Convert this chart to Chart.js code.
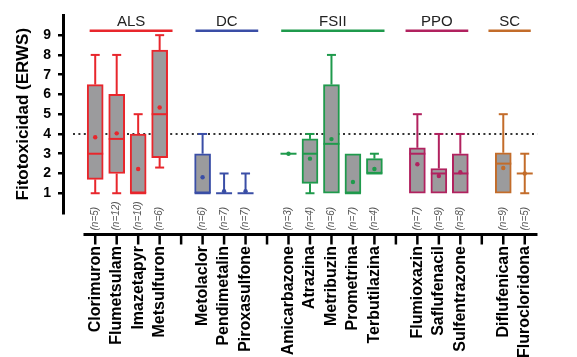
<!DOCTYPE html>
<html><head><meta charset="utf-8">
<script src="https://cdn.jsdelivr.net/npm/chart.js@4"></script>
<style>html,body{margin:0;padding:0;background:#fff}#wrap{width:577px;height:357px}</style>
</head><body><div id="wrap"><canvas id="c" width="577" height="357"></canvas></div>
<script>
// ---- DATA ----
const categories = ['', 'Clorimuron','Flumetsulam','Imazetapyr','Metsulfuron','',
  'Metolaclor','Pendimetalin','Piroxasulfone','',
  'Amicarbazone','Atrazina','Metribuzin','Prometrina','Terbutilazina','',
  'Flumioxazin','Saflufenacil','Sulfentrazone','',
  'Diflufenican','Flurocloridona'];
const groupOf = [null,'ALS','ALS','ALS','ALS',null,'DC','DC','DC',null,
  'FSII','FSII','FSII','FSII','FSII',null,'PPO','PPO','PPO',null,'SC','SC'];
const nValues = [null,5,12,10,6,null,6,7,7,null,3,4,6,7,4,null,7,9,8,null,9,5];
const mins    = [null,1,1,1,2.3,null,1,1,1,null,3,1,1,1,2,null,1,1,1,null,1,1];
const q1s     = [null,1.7,2,1,2.8,null,1,1,1,null,3,1.5,1,1,2,null,1,1,1,null,1,2];
const medians = [null,3,3.75,1,5,null,1,1,1,null,3,3,3.5,1,2,null,3,2,2,null,2.5,2];
const q3s     = [null,6.5,6,4,8.25,null,3,1,1,null,3,3.75,6.5,3,2.75,null,3.3,2.25,3,null,3.05,2];
const maxs    = [null,8,8,5,9,null,4,2,2,null,3,4,8,3,3,null,5,4,4,null,5,3];
const means   = [null,3.83,4.03,2.23,5.34,null,1.81,1.1,1.1,null,3,2.75,3.74,1.57,2.23,null,2.47,1.87,2.06,null,2.28,2];
const groupNames = ['ALS','DC','FSII','PPO','SC'];
const groupSpans = [[0.74,4.6],[5.67,8.59],[9.66,14.47],[15.45,18.37],[19.31,21.28]];
const yTickValues = [1,2,3,4,5,6,7,8,9];
const thresholdValue = 4;
const yTitle = 'Fitotoxicidad (ERWS)';

// ---- STYLE ----
const FONT = '"Liberation Sans", Arial, Helvetica, sans-serif';
const groupColors = {ALS:'#e8262c', DC:'#3a4ea6', FSII:'#1f9a4c', PPO:'#b1225f', SC:'#c36c2a'};
const colorAt = i => groupOf[i] ? groupColors[groupOf[i]] : 'rgba(0,0,0,0)';
const catColors = categories.map((c,i)=>colorAt(i));
const BOX_W = 16, CAP_W = 9;

const boxData = categories.map((c,i)=> (q3s[i]!=null && q3s[i]>q1s[i]) ? [q1s[i], q3s[i]] : null);

const extras = {
  id:'extras',
  beforeDatasetsDraw(chart){
    const {ctx, chartArea} = chart; const y = chart.scales.y.getPixelForValue(thresholdValue);
    ctx.save(); ctx.strokeStyle='#333'; ctx.lineWidth=2; ctx.setLineDash([2,3.4]);
    ctx.beginPath(); ctx.moveTo(chartArea.left+10, y); ctx.lineTo(chartArea.right+2, y); ctx.stroke();
    ctx.restore();
  },
  afterDatasetDraw(chart, args){
    if(args.index!==0) return;
    const {ctx} = chart; const xs = chart.scales.x, ys = chart.scales.y;
    ctx.save(); ctx.lineWidth=2; ctx.lineCap='butt';
    categories.forEach((c,i)=>{
      if(medians[i]==null) return;
      const x = xs.getPixelForValue(i); ctx.strokeStyle = catColors[i];
      const seg=(x1,y1,x2,y2)=>{ctx.beginPath();ctx.moveTo(x1,y1);ctx.lineTo(x2,y2);ctx.stroke();};
      const pq3=ys.getPixelForValue(q3s[i]), pmax=ys.getPixelForValue(maxs[i]);
      const pq1=ys.getPixelForValue(q1s[i]), pmin=ys.getPixelForValue(mins[i]);
      if(maxs[i]>q3s[i]){ seg(x,pq3,x,pmax); seg(x-CAP_W/2,pmax,x+CAP_W/2,pmax); }
      if(mins[i]<q1s[i]){ seg(x,pq1,x,pmin); seg(x-CAP_W/2,pmin,x+CAP_W/2,pmin); }
      const pm=ys.getPixelForValue(medians[i]);
      seg(x-BOX_W/2,pm,x+BOX_W/2,pm);
    });
    ctx.restore();
  },
  afterDraw(chart){
    const {ctx, chartArea} = chart; const xs = chart.scales.x, ys = chart.scales.y;
    const axisY = ys.bottom + 21.5;
    const half = (xs.getPixelForValue(1)-xs.getPixelForValue(0))/2;
    ctx.save();
    ctx.strokeStyle='#000'; ctx.lineWidth=3;
    ctx.beginPath(); ctx.moveTo(xs.getPixelForValue(1)-half-1, axisY); ctx.lineTo(chartArea.right+2, axisY); ctx.stroke();
    ctx.lineWidth=2.5;
    for(let i=1;i<categories.length;i++){
      const x=xs.getPixelForValue(i);
      ctx.beginPath(); ctx.moveTo(x, axisY); ctx.lineTo(x, axisY+10); ctx.stroke();
    }
    // n labels
    ctx.fillStyle='#555'; ctx.font='italic 10px '+FONT; ctx.textAlign='left'; ctx.textBaseline='middle';
    categories.forEach((c,i)=>{
      if(nValues[i]==null) return;
      const x=xs.getPixelForValue(i);
      ctx.save(); ctx.translate(x, axisY-4); ctx.rotate(-Math.PI/2);
      ctx.fillText('(n='+nValues[i]+')', 0, 0); ctx.restore();
    });
    // group labels
    groupNames.forEach((g,k)=>{
      const x1=xs.getPixelForValue(groupSpans[k][0]), x2=xs.getPixelForValue(groupSpans[k][1]);
      ctx.strokeStyle=groupColors[g]; ctx.lineWidth=2.5;
      ctx.beginPath(); ctx.moveTo(x1,30.7); ctx.lineTo(x2,30.7); ctx.stroke();
      ctx.fillStyle='#222'; ctx.font='15px '+FONT; ctx.textAlign='center'; ctx.textBaseline='alphabetic';
      ctx.fillText(g,(x1+x2)/2,26);
    });
    ctx.restore();
  }
};

new Chart(document.getElementById('c'), {
  type:'bar',
  data:{ labels: categories, datasets:[
    {type:'bar', data: boxData, backgroundColor:'#9b9b9d', borderColor: catColors, borderWidth:2,
     borderSkipped:false, barThickness:BOX_W, grouped:false, order:2},
    {type:'line', data: means, showLine:false, pointRadius:2.2, pointHoverRadius:2.2,
     pointBackgroundColor: catColors, pointBorderWidth:0, order:1}
  ]},
  options:{
    responsive:false, animation:false, devicePixelRatio:1,
    layout:{padding:{top:13.4, right:1, left:0, bottom:0}},
    plugins:{legend:{display:false}, tooltip:{enabled:false}},
    scales:{
      x:{type:'category', offset:true, grid:{display:false, drawTicks:false}, border:{display:false},
         ticks:{autoSkip:false, minRotation:90, maxRotation:90, padding:33, color:'#000',
                font:{family:FONT, weight:'bold', size:16}},
         afterFit:s=>{s.height=144;}},
      y:{min:0, max:10, afterBuildTicks:s=>{s.ticks=yTickValues.map(v=>({value:v}));},
         grid:{drawOnChartArea:false, tickLength:5, lineWidth:2.5, color:'#000'},
         border:{color:'#000', width:3},
         ticks:{padding:7, color:'#000', font:{family:FONT, weight:'bold', size:14}},
         title:{display:true, text:yTitle, color:'#000', padding:{top:13,bottom:0},
                font:{family:FONT, weight:'bold', size:17}},
         afterFit:s=>{s.width=63;}}
    }
  },
  plugins:[extras]
});
</script></body></html>
